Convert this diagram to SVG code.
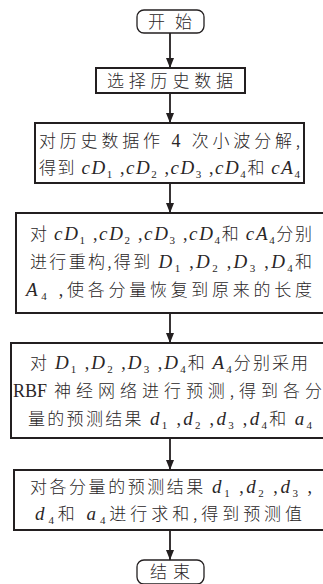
<svg xmlns="http://www.w3.org/2000/svg" width="323" height="584" viewBox="0 0 323 584">
<defs>
<style>
.box{fill:#fff;stroke:#231f20;stroke-width:2}
.term{fill:#fff;stroke:#231f20;stroke-width:1.3}
.t{font-family:"Noto Sans CJK SC","Noto Sans CJK JP",sans-serif;font-size:17px;font-weight:300;fill:#2a2627}
.i{font-family:"Liberation Serif",serif;font-style:italic;font-weight:400;font-size:19px}
.r{font-family:"Liberation Serif",serif;font-weight:400;font-size:18px}
.s{font-family:"Liberation Serif",serif;font-style:normal;font-weight:400;font-size:11px}
.conn line{stroke:#231f20;stroke-width:1.8;marker-end:url(#ah)}
</style>
<marker id="ah" markerUnits="userSpaceOnUse" markerWidth="10" markerHeight="8" refX="10" refY="4" orient="auto">
<path d="M0,0 L10,4 L0,8 z" fill="#231f20"/>
</marker>
</defs>
<rect width="323" height="584" fill="#fff"/>
<g class="conn">
<line x1="170" y1="33" x2="170" y2="68"/>
<line x1="170" y1="93" x2="170" y2="123"/>
<line x1="170" y1="183" x2="170" y2="213"/>
<line x1="170" y1="313" x2="170" y2="343"/>
<line x1="170" y1="438" x2="170" y2="470"/>
<line x1="170" y1="530" x2="170" y2="560"/>
</g>
<g id="start">
<rect class="term" x="137" y="10" width="67" height="23" rx="7"/>
<text class="t" x="148" y="28" textLength="44" lengthAdjust="spacing">开始</text>
</g>
<g id="select">
<rect class="box" x="96" y="68" width="149" height="25"/>
<text class="t" x="107" y="87" textLength="126" lengthAdjust="spacing">选择历史数据</text>
</g>
<g id="decompose">
<rect class="box" x="35" y="123" width="269" height="60"/>
<text class="t" x="39" y="147" textLength="261" lengthAdjust="spacing">对历史数据作 <tspan class="r">4</tspan> 次小波分解,</text>
<text class="t" x="39" y="174" textLength="261" lengthAdjust="spacing">得到 <tspan class="i">cD</tspan><tspan class="s" dy="4">1</tspan><tspan class="r" dy="-4"> ,</tspan><tspan class="i">cD</tspan><tspan class="s" dy="4">2</tspan><tspan class="r" dy="-4"> ,</tspan><tspan class="i">cD</tspan><tspan class="s" dy="4">3</tspan><tspan class="r" dy="-4"> ,</tspan><tspan class="i">cD</tspan><tspan class="s" dy="4">4</tspan><tspan dy="-4">和 </tspan><tspan class="i">cA</tspan><tspan class="s" dy="4">4</tspan></text>
</g>
<g id="reconstruct">
<rect class="box" x="16" y="213" width="312" height="100"/>
<text class="t" x="30" y="240" textLength="282" lengthAdjust="spacing">对 <tspan class="i">cD</tspan><tspan class="s" dy="4">1</tspan><tspan class="r" dy="-4"> ,</tspan><tspan class="i">cD</tspan><tspan class="s" dy="4">2</tspan><tspan class="r" dy="-4"> ,</tspan><tspan class="i">cD</tspan><tspan class="s" dy="4">3</tspan><tspan class="r" dy="-4"> ,</tspan><tspan class="i">cD</tspan><tspan class="s" dy="4">4</tspan><tspan dy="-4">和 </tspan><tspan class="i">cA</tspan><tspan class="s" dy="4">4</tspan><tspan dy="-4">分别</tspan></text>
<text class="t" x="30" y="268" textLength="282" lengthAdjust="spacing">进行重构,得到 <tspan class="i">D</tspan><tspan class="s" dy="4">1</tspan><tspan class="r" dy="-4"> ,</tspan><tspan class="i">D</tspan><tspan class="s" dy="4">2</tspan><tspan class="r" dy="-4"> ,</tspan><tspan class="i">D</tspan><tspan class="s" dy="4">3</tspan><tspan class="r" dy="-4"> ,</tspan><tspan class="i">D</tspan><tspan class="s" dy="4">4</tspan><tspan dy="-4">和</tspan></text>
<text class="t" x="26" y="296" textLength="286" lengthAdjust="spacing"><tspan class="i">A</tspan><tspan class="s" dy="4">4</tspan><tspan class="r" dy="-4"> ,</tspan>使各分量恢复到原来的长度</text>
</g>
<g id="predict">
<rect class="box" x="11" y="343" width="317" height="95"/>
<text class="t" x="30" y="369" textLength="278" lengthAdjust="spacing">对 <tspan class="i">D</tspan><tspan class="s" dy="4">1</tspan><tspan class="r" dy="-4"> ,</tspan><tspan class="i">D</tspan><tspan class="s" dy="4">2</tspan><tspan class="r" dy="-4"> ,</tspan><tspan class="i">D</tspan><tspan class="s" dy="4">3</tspan><tspan class="r" dy="-4"> ,</tspan><tspan class="i">D</tspan><tspan class="s" dy="4">4</tspan><tspan dy="-4">和 </tspan><tspan class="i">A</tspan><tspan class="s" dy="4">4</tspan><tspan dy="-4">分别采用</tspan></text>
<text class="t r" x="13" y="397">RBF</text>
<text class="t" x="54" y="397" textLength="268" lengthAdjust="spacing">神经网络进行预测,得到各分</text>
<text class="t" x="28" y="425" textLength="284" lengthAdjust="spacing">量的预测结果 <tspan class="i">d</tspan><tspan class="s" dy="4">1</tspan><tspan class="r" dy="-4"> ,</tspan><tspan class="i">d</tspan><tspan class="s" dy="4">2</tspan><tspan class="r" dy="-4"> ,</tspan><tspan class="i">d</tspan><tspan class="s" dy="4">3</tspan><tspan class="r" dy="-4"> ,</tspan><tspan class="i">d</tspan><tspan class="s" dy="4">4</tspan><tspan dy="-4">和 </tspan><tspan class="i">a</tspan><tspan class="s" dy="4">4</tspan></text>
</g>
<g id="sum">
<rect class="box" x="14" y="470" width="314" height="60"/>
<text class="t" x="30" y="493" textLength="282" lengthAdjust="spacing">对各分量的预测结果 <tspan class="i">d</tspan><tspan class="s" dy="4">1</tspan><tspan class="r" dy="-4"> ,</tspan><tspan class="i">d</tspan><tspan class="s" dy="4">2</tspan><tspan class="r" dy="-4"> ,</tspan><tspan class="i">d</tspan><tspan class="s" dy="4">3</tspan><tspan class="r" dy="-4"> ,</tspan></text>
<text class="t" x="35" y="520" textLength="267" lengthAdjust="spacing"><tspan class="i">d</tspan><tspan class="s" dy="4">4</tspan><tspan dy="-4">和 </tspan><tspan class="i">a</tspan><tspan class="s" dy="4">4</tspan><tspan dy="-4">进行求和,得到预测值</tspan></text>
</g>
<g id="end">
<rect class="term" x="137" y="560" width="67" height="24" rx="7"/>
<text class="t" x="150" y="578" textLength="40" lengthAdjust="spacing">结束</text>
</g>
</svg>
